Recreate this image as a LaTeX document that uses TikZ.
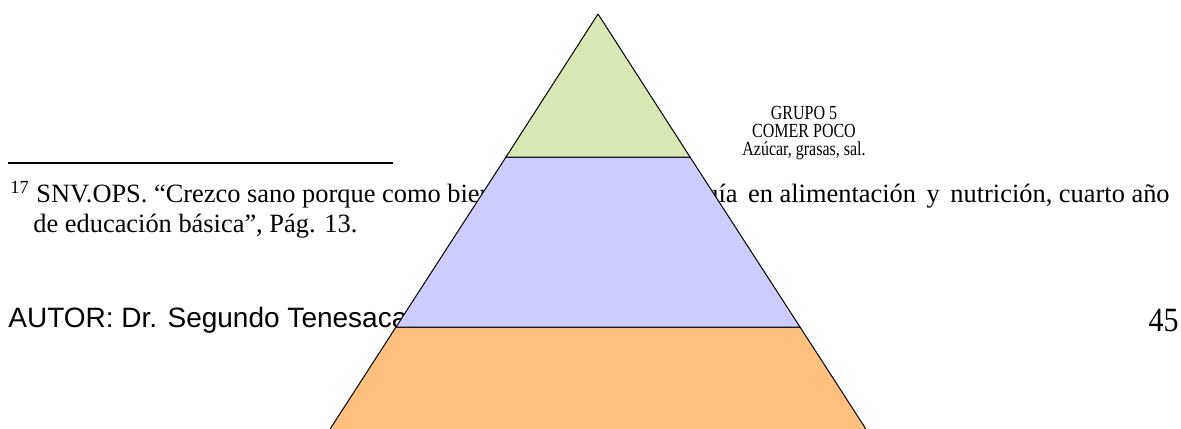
\documentclass[tikz,border=0pt]{standalone}
\usepackage{fontspec}
\setmainfont{Liberation Serif}
\newfontfamily\autorfont{Liberation Sans}
\newfontfamily\pagefont[FakeStretch=0.88]{Liberation Serif}
\newfontfamily\grpfont[FakeStretch=0.8]{Liberation Serif}
\usetikzlibrary{positioning,calc}
\definecolor{bandtop}{HTML}{D7E8B4}
\definecolor{bandmid}{HTML}{CCCCFF}
\definecolor{bandlow}{HTML}{FFBF7F}

\begin{document}
\begin{tikzpicture}[x=0.5pt, y=-0.5pt,
  band/.style={draw=black, line width=0.5pt, line join=round},
  note/.style={inner sep=0pt, font=\fontsize{13.2}{15}\selectfont},
  grplabel/.style={align=center, inner sep=0pt, font=\grpfont\fontsize{10}{9}\selectfont}
]
  \useasboundingbox (0,0) rectangle (1181,428);
  \clip (0,0) rectangle (1181,428);
  % footnote and page footer (the pyramid lies on top of them)
  \coordinate (rulea) at (8,163);
  \coordinate (ruleb) at (393,163);
  \draw[line width=0.75pt] (rulea) -- (ruleb);
  \node[note, anchor=base west] (refa) at (10,202) {\textsuperscript{17} SNV.OPS. “Crezco sano porque como bien};
  \node[note, anchor=base east] (refb) at (1170,202) {guía\ \hspace{2pt}en alimentación\ \hspace{2pt}y\ \hspace{2pt}nutrición, cuarto año};
  \node[note, anchor=base west] (refc) at (33,232) {de educación básica”, Pág. 13.};
  \node[inner sep=0pt, anchor=base west, font=\autorfont\fontsize{14}{16}\selectfont] (autor) at (8,327) {AUTOR: Dr. Segundo Tenesaca Z};
  \node[inner sep=0pt, anchor=base east, font=\pagefont\fontsize{17}{19}\selectfont] (page) at (1179,331) {45};

  % pyramid
  \coordinate (apex) at (598,14);
  \coordinate (l1) at (506,157);
  \coordinate (r1) at (690,157);
  \coordinate (l2) at (396,327);
  \coordinate (r2) at (800,327);
  \coordinate (l3) at (323,440);
  \coordinate (r3) at (873,440);
  \draw[band, fill=bandlow] (l2) -- (r2) -- (r3) -- (l3) -- cycle;
  \draw[band, fill=bandmid] (l1) -- (r1) -- (r2) -- (l2) -- cycle;
  \draw[band, fill=bandtop] (apex) -- (r1) -- (l1) -- cycle;

  \node[grplabel] (grupo) at (804,133) {GRUPO 5\\COMER POCO\\Azúcar, grasas, sal.};
\end{tikzpicture}
\end{document}
